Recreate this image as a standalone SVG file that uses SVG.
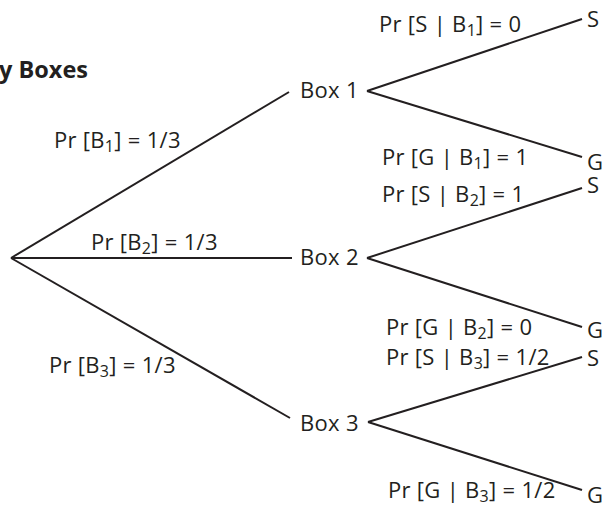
<svg xmlns="http://www.w3.org/2000/svg" width="611" height="511" viewBox="0 0 611 511">
<style>
text{font-family:"Open Sans","Noto Sans","Liberation Sans",sans-serif;font-size:22px;fill:#231f20;letter-spacing:0.3px}
.t{font-weight:bold;font-size:23.5px;letter-spacing:0}
.sub{font-size:16px}
line{stroke:#231f20;stroke-width:2;fill:none}
</style>
<rect width="611" height="511" fill="#fff"/>
<g id="title"><text class="t" x="-1" y="78">y Boxes</text></g>
<g id="connectors">
<line x1="11" y1="258" x2="289" y2="92"/>
<line x1="11" y1="258" x2="292" y2="258"/>
<line x1="11" y1="258" x2="290" y2="418"/>
<line x1="367" y1="91" x2="582" y2="19"/>
<line x1="367" y1="91" x2="582" y2="157"/>
<line x1="367" y1="258" x2="582" y2="188"/>
<line x1="367" y1="258" x2="582" y2="327"/>
<line x1="368" y1="422" x2="582" y2="357"/>
<line x1="368" y1="422" x2="582" y2="490"/>
</g>
<g id="edge-labels">
<text x="54" y="148">Pr [B<tspan class="sub" dy="4">1</tspan><tspan dy="-4">] = 1/3</tspan></text>
<text x="91" y="250">Pr [B<tspan class="sub" dy="4">2</tspan><tspan dy="-4">] = 1/3</tspan></text>
<text x="49" y="373">Pr [B<tspan class="sub" dy="4">3</tspan><tspan dy="-4">] = 1/3</tspan></text>
<text x="379" y="32">Pr [S | B<tspan class="sub" dy="4">1</tspan><tspan dy="-4">] = 0</tspan></text>
<text x="382" y="165">Pr [G | B<tspan class="sub" dy="4">1</tspan><tspan dy="-4">] = 1</tspan></text>
<text x="382" y="202">Pr [S | B<tspan class="sub" dy="4">2</tspan><tspan dy="-4">] = 1</tspan></text>
<text x="386" y="335">Pr [G | B<tspan class="sub" dy="4">2</tspan><tspan dy="-4">] = 0</tspan></text>
<text x="386" y="365">Pr [S | B<tspan class="sub" dy="4">3</tspan><tspan dy="-4">] = 1/2</tspan></text>
<text x="388" y="498">Pr [G | B<tspan class="sub" dy="4">3</tspan><tspan dy="-4">] = 1/2</tspan></text>
</g>
<g id="box1"><text x="300" y="98">Box 1</text></g>
<g id="box2"><text x="300" y="265">Box 2</text></g>
<g id="box3"><text x="300" y="431">Box 3</text></g>
<g id="s1"><text x="587" y="27">S</text></g>
<g id="g1"><text x="587" y="170">G</text></g>
<g id="s2"><text x="587" y="193">S</text></g>
<g id="g2"><text x="587" y="338">G</text></g>
<g id="s3"><text x="587" y="366">S</text></g>
<g id="g3"><text x="587" y="503">G</text></g>
</svg>
